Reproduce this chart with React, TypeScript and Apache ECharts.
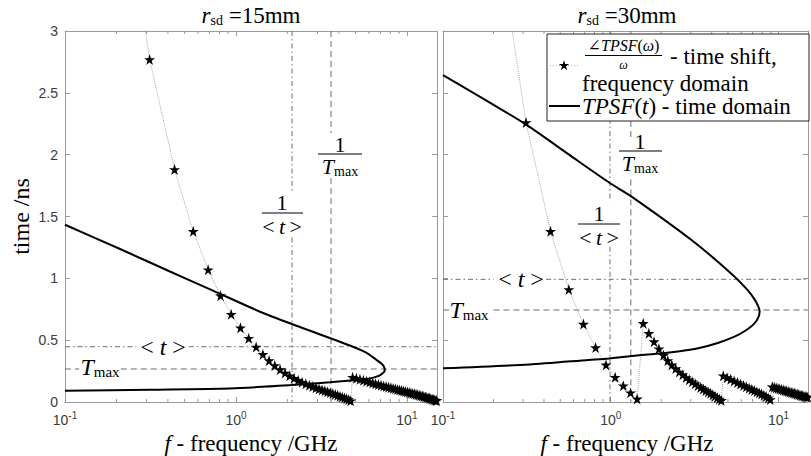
import React, { useEffect, useRef } from "react";
import * as echarts from "echarts";

// ---------- axes ----------
const X_MIN = 0.1;
const X_MAX = 15;
const Y_MIN = 0;
const Y_MAX = 3;
const Y_STEP = 0.5;
const minorTicksX = [0.2, 0.3, 0.4, 0.5, 0.6, 0.7, 0.8, 0.9, 2, 3, 4, 5, 6, 7, 8, 9];
const panelTitles = ["=15mm", "=30mm"];

// ---------- r_sd = 15 mm ----------
const tpsfLeft = [
  [0.1, 1.433], [0.21, 1.237], [0.411, 1.055], [0.734, 0.901], [1.44, 0.72], [2.37, 0.606],
  [4.83, 0.447], [5.84, 0.396], [6.65, 0.34], [7.14, 0.307], [7.34, 0.285], [7.42, 0.263],
  [7.36, 0.243], [7.05, 0.222], [6.65, 0.205], [6.0, 0.189], [4.85, 0.176], [3.55, 0.159],
  [2.12, 0.137], [0.922, 0.11], [0.314, 0.1], [0.1, 0.091],
];
const starsLeftSeg1 = [
  [0.1875, 4.8], [0.3125, 2.77], [0.4375, 1.88], [0.5625, 1.38], [0.6875, 1.07], [0.8125, 0.86],
  [0.9375, 0.71], [1.0625, 0.6], [1.1875, 0.515], [1.3125, 0.445], [1.4375, 0.385], [1.5625, 0.335],
  [1.6875, 0.295], [1.8125, 0.262], [1.9375, 0.235], [2.0625, 0.212], [2.1875, 0.192], [2.3125, 0.175],
  [2.4375, 0.16], [2.5625, 0.147], [2.6875, 0.135], [2.8125, 0.125], [2.9375, 0.115], [3.0625, 0.106],
  [3.1875, 0.098], [3.3125, 0.09], [3.4375, 0.082], [3.5625, 0.075], [3.6875, 0.068], [3.8125, 0.061],
  [3.9375, 0.054], [4.0625, 0.047], [4.1875, 0.04], [4.3125, 0.033], [4.4375, 0.026], [4.5625, 0.019],
  [4.6875, 0.01],
];
const starsLeftSeg2 = [
  [4.8125, 0.2], [5.0625, 0.192], [5.3125, 0.184], [5.5625, 0.176], [5.8125, 0.168], [6.0625, 0.161],
  [6.3125, 0.154], [6.5625, 0.147], [6.8125, 0.141], [7.0625, 0.135], [7.3125, 0.13], [7.5625, 0.125],
  [7.8125, 0.12], [8.0625, 0.115], [8.3125, 0.11], [8.5625, 0.106], [8.8125, 0.101], [9.0625, 0.097],
  [9.3125, 0.093], [9.5625, 0.089], [9.8125, 0.085], [10.0625, 0.081], [10.3125, 0.077], [10.5625, 0.073],
  [10.8125, 0.069], [11.0625, 0.066], [11.3125, 0.062], [11.5625, 0.058], [11.8125, 0.055], [12.0625, 0.051],
  [12.3125, 0.048], [12.5625, 0.044], [12.8125, 0.041], [13.0625, 0.037], [13.3125, 0.034], [13.5625, 0.03],
  [13.8125, 0.027], [14.0625, 0.023], [14.3125, 0.02], [14.5625, 0.016], [14.8125, 0.013], [14.9375, 0.012],
];
const meanLinesLeft = [
  [[2.13, 3], [2.13, 1.7]], [[2.13, 1.33], [2.13, 0]],
  [[0.1, 0.447], [0.262, 0.447]], [[0.53, 0.447], [15, 0.447]],
];
const tmaxLinesLeft = [
  [[3.6, 3], [3.6, 2.175]], [[3.6, 1.81], [3.6, 0]],
  [[0.1, 0.267], [0.121, 0.267]], [[0.212, 0.267], [15, 0.267]],
];

// ---------- r_sd = 30 mm ----------
const tpsfRight = [
  [0.1, 2.644], [0.305, 2.253], [0.564, 2.0], [0.982, 1.773], [1.318, 1.665], [3.03, 1.31],
  [5.22, 1.04], [6.55, 0.905], [7.2, 0.83], [7.6, 0.77], [7.72, 0.735], [7.62, 0.69], [7.2, 0.636],
  [6.3, 0.574], [5.47, 0.528], [4.35, 0.477], [3.32, 0.434], [2.52, 0.408], [2.01, 0.394],
  [1.525, 0.38], [0.973, 0.352], [0.74, 0.34], [0.327, 0.303], [0.1, 0.272],
];
const starsRightSeg1 = [
  [0.1875, 4.26], [0.3125, 2.26], [0.4375, 1.38], [0.5625, 0.91], [0.6875, 0.63], [0.8125, 0.44],
  [0.9375, 0.3], [1.0625, 0.2], [1.1875, 0.132], [1.3125, 0.075], [1.4375, 0.025],
];
const starsRightSeg2 = [
  [1.5625, 0.636], [1.6875, 0.555], [1.8125, 0.488], [1.9375, 0.43], [2.0625, 0.378], [2.1875, 0.335],
  [2.3125, 0.3], [2.4375, 0.27], [2.5625, 0.243], [2.6875, 0.22], [2.8125, 0.198], [2.9375, 0.18],
  [3.0625, 0.163], [3.1875, 0.147], [3.3125, 0.132], [3.4375, 0.118], [3.5625, 0.105], [3.6875, 0.093],
  [3.8125, 0.081], [3.9375, 0.07], [4.0625, 0.058], [4.1875, 0.047], [4.3125, 0.035], [4.4375, 0.024],
  [4.5625, 0.013],
];
const starsRightSeg3 = [
  [4.6875, 0.212], [4.9375, 0.197], [5.1875, 0.183], [5.4375, 0.17], [5.6875, 0.157], [5.9375, 0.145],
  [6.1875, 0.134], [6.4375, 0.123], [6.6875, 0.112], [6.9375, 0.102], [7.1875, 0.092], [7.4375, 0.082],
  [7.6875, 0.073], [7.9375, 0.064], [8.1875, 0.055], [8.4375, 0.044], [8.6875, 0.033], [8.9375, 0.02],
];
const starsRightSeg4 = [
  [9.1875, 0.124], [9.4375, 0.119], [9.6875, 0.114], [9.9375, 0.11], [10.1875, 0.106], [10.4375, 0.101],
  [10.6875, 0.097], [10.9375, 0.093], [11.1875, 0.089], [11.4375, 0.085], [11.6875, 0.081], [11.9375, 0.077],
  [12.1875, 0.074], [12.4375, 0.07], [12.6875, 0.067], [12.9375, 0.063], [13.1875, 0.06], [13.4375, 0.056],
  [13.6875, 0.053], [13.9375, 0.05], [14.1875, 0.047], [14.4375, 0.044], [14.6875, 0.041], [14.9375, 0.038],
];
const meanLinesRight = [
  [[0.99, 3], [0.99, 1.62]], [[0.99, 1.255], [0.99, 0]],
  [[0.1, 0.992], [0.2, 0.992]], [[0.412, 0.992], [15, 0.992]],
];
const tmaxLinesRight = [
  [[1.318, 3], [1.318, 2.13]], [[1.318, 1.8], [1.318, 0]],
  [[0.1, 0.744], [0.113, 0.744]], [[0.2, 0.744], [15, 0.744]],
];

// ---------- styles ----------
const SERIF = '"Liberation Serif", "DejaVu Serif", serif';
const SANS = "Liberation Sans";
const axisColor = "#9a9a9a";
const labelColor = "#3a3a3a";
const refColor = "#6e6e6e";
const DASH_DOT = [5, 3, 1.5, 3];
const DASHED = [6, 4];
const STAR =
  "path://M50 0 L61.17 34.63 L97.55 34.55 L68.07 55.87 L79.39 90.45 L50 69 L20.61 90.45 L31.93 55.87 L2.45 34.55 L38.83 34.63 Z";

function sf(size: number, italic = false) {
  return `${italic ? "italic" : "normal"} normal ${size}px ${SERIF}`;
}

function rich(size: number) {
  const subSize = Math.round(size * 0.62);
  const shift = Math.round(size * 0.22);
  return {
    n: { font: sf(size), fill: "#000" },
    i: { font: sf(size, true), fill: "#000" },
    sub: { font: sf(subSize), fill: "#000", padding: [shift * 2, 0, 0, 0] },
  };
}

function txt(x: number, y: number, text: string, size: number, align = "center", extra: any = {}) {
  return {
    type: "text",
    x,
    y,
    z: 100,
    ...extra,
    style: {
      text,
      font: sf(size),
      fill: "#000",
      align,
      textAlign: align,
      verticalAlign: "middle",
      textVerticalAlign: "middle",
      rich: rich(size),
    },
  };
}

function hline(x1: number, x2: number, y: number, width = 1, dash?: number[], color = "#000") {
  return {
    type: "line",
    z: 100,
    shape: { x1, y1: y, x2, y2: y },
    style: { stroke: color, lineWidth: width, lineDash: dash },
  };
}

function starPoints(cx: number, cy: number, R: number) {
  const pts: number[][] = [];
  for (let k = 0; k < 10; k++) {
    const r = k % 2 === 0 ? R : R * 0.38;
    const a = -Math.PI / 2 + (k * Math.PI) / 5;
    pts.push([cx + r * Math.cos(a), cy + r * Math.sin(a)]);
  }
  return pts;
}

function xAxisPair(gridIndex: number) {
  const base: any = {
    gridIndex,
    type: "log",
    logBase: 10,
    min: X_MIN,
    max: X_MAX,
    splitLine: { show: false },
    axisLine: { show: true, onZero: false, lineStyle: { color: axisColor, width: 1 } },
    axisTick: { show: true, inside: true, length: 5, lineStyle: { color: axisColor } },
  };
  return [
    {
      ...base,
      position: "bottom",
      axisLabel: {
        show: true,
        margin: 8,
        color: labelColor,
        formatter: (v: number) => {
          const e = Math.round(Math.log10(v));
          if (Math.abs(v / Math.pow(10, e) - 1) > 1e-6) return "";
          return `{b|10}{s|${e}}`;
        },
        rich: {
          b: { fontFamily: SANS, fontSize: 14, color: labelColor },
          s: { fontFamily: SANS, fontSize: 10, color: labelColor, padding: [0, 0, 9, 0] },
        },
      },
    },
    { ...base, position: "top", axisLabel: { show: false } },
  ];
}

function yAxisPair(gridIndex: number, labels: boolean) {
  const base: any = {
    gridIndex,
    type: "value",
    min: Y_MIN,
    max: Y_MAX,
    interval: Y_STEP,
    splitLine: { show: false },
    axisLine: { show: true, onZero: false, lineStyle: { color: axisColor, width: 1 } },
    axisTick: { show: true, inside: true, length: 5, lineStyle: { color: axisColor } },
  };
  return [
    {
      ...base,
      position: "left",
      axisLabel: { show: labels, margin: 7, color: labelColor, fontFamily: SANS, fontSize: 14 },
    },
    { ...base, position: "right", axisLabel: { show: false } },
  ];
}

function minorTickSeries(xi: number, yi: number) {
  return {
    type: "custom",
    xAxisIndex: xi,
    yAxisIndex: yi,
    silent: true,
    clip: false,
    z: 3,
    data: minorTicksX.map((v) => [v, Y_MIN]),
    encode: { x: 0, y: 1 },
    renderItem: (_p: any, api: any) => {
      const v = api.value(0);
      const b = api.coord([v, Y_MIN]);
      const t = api.coord([v, Y_MAX]);
      return {
        type: "group",
        children: [
          { type: "line", shape: { x1: b[0], y1: b[1], x2: b[0], y2: b[1] - 3 }, style: { stroke: axisColor, lineWidth: 1 } },
          { type: "line", shape: { x1: t[0], y1: t[1], x2: t[0], y2: t[1] + 3 }, style: { stroke: axisColor, lineWidth: 1 } },
        ],
      };
    },
  };
}

function refSeries(segments: number[][][], xi: number, yi: number, dash: number[]) {
  return segments.map((seg) => ({
    type: "line",
    xAxisIndex: xi,
    yAxisIndex: yi,
    data: seg,
    symbol: "none",
    silent: true,
    z: 1,
    lineStyle: { color: refColor, width: 1, type: dash },
  }));
}

function panelSeries(stars: number[][], tpsf: number[][], xi: number, yi: number) {
  return [
    {
      type: "line",
      name: "stars",
      xAxisIndex: xi,
      yAxisIndex: yi,
      data: stars,
      symbol: STAR,
      symbolSize: 11,
      showAllSymbol: true,
      itemStyle: { color: "#000" },
      lineStyle: { color: "#a8a8a8", width: 1, type: "dotted" },
      z: 4,
    },
    {
      type: "line",
      name: "tpsf",
      xAxisIndex: xi,
      yAxisIndex: yi,
      data: tpsf,
      symbol: "none",
      smooth: 0.25,
      lineStyle: { color: "#000", width: 2 },
      z: 5,
    },
  ];
}

export default function App() {
  const ref = useRef<HTMLDivElement>(null);

  useEffect(() => {
    document.body.style.margin = "0";
    if (!ref.current) return;
    const chart = echarts.init(ref.current, undefined, { renderer: "svg" });

    const starsLeft = [...starsLeftSeg1, ...starsLeftSeg2];
    const starsRight = [...starsRightSeg1, ...starsRightSeg2, ...starsRightSeg3, ...starsRightSeg4];

    const graphic: any[] = [
      // titles
      txt(251, 15, `{i|r}{sub|sd}{n| ${panelTitles[0]}}`, 23),
      txt(627, 15, `{i|r}{sub|sd}{n| ${panelTitles[1]}}`, 23),
      // axis titles
      txt(21, 216.5, "{n|time /ns}", 24, "center", { rotation: Math.PI / 2 }),
      txt(251, 443, "{i|f}{n| - frequency /GHz}", 23),
      txt(627, 443, "{i|f}{n| - frequency /GHz}", 23),
      // left annotations
      txt(282, 202, "{n|1}", 22),
      hline(262, 303, 213),
      txt(282, 226, "{n|<\u2009}{i|t}{n|\u2009>}", 22),
      txt(340, 144, "{n|1}", 22),
      hline(318, 362, 154),
      txt(340, 166, "{i|T}{sub|max}", 22),
      txt(163, 347, "{n|< }{i|t}{n| >}", 24),
      txt(100, 367, "{i|T}{sub|max}", 24),
      // right annotations
      txt(599, 213, "{n|1}", 22),
      hline(578, 620, 224),
      txt(599, 237, "{n|<\u2009}{i|t}{n|\u2009>}", 22),
      txt(640, 141, "{n|1}", 22),
      hline(619, 662, 151),
      txt(640, 163, "{i|T}{sub|max}", 22),
      txt(521, 279.3, "{n|< }{i|t}{n| >}", 24),
      txt(469, 310, "{i|T}{sub|max}", 24),
      // legend
      {
        type: "rect",
        z: 99,
        shape: { x: 547, y: 34, width: 262, height: 87 },
        style: { fill: "#fff", stroke: "#222", lineWidth: 1 },
      },
      hline(550, 580, 65.7, 1, [1, 2], "#a8a8a8"),
      { type: "polygon", z: 101, shape: { points: starPoints(564, 65.7, 5.5) }, style: { fill: "#000" } },
      txt(623.5, 45.5, "{n|∠}{i|TPSF}{n|(}{i|ω}{n|)}", 16),
      hline(585, 662, 55.5),
      txt(623.5, 64.5, "{i|ω}", 12),
      txt(670, 56, "{n|- time shift,}", 23, "left"),
      txt(582, 83, "{n|frequency domain}", 23, "left"),
      hline(549, 580, 106, 2),
      txt(582, 106.5, "{i|TPSF}{n|(}{i|t}{n|) - time domain}", 23, "left"),
    ];

    chart.setOption({
      animation: false,
      backgroundColor: "#fff",
      textStyle: { fontFamily: SANS },
      grid: [
        { left: 65, top: 31, width: 372, height: 371 },
        { left: 443, top: 31, width: 369, height: 371 },
      ],
      xAxis: [...xAxisPair(0), ...xAxisPair(1)],
      yAxis: [...yAxisPair(0, true), ...yAxisPair(1, false)],
      series: [
        ...refSeries(meanLinesLeft, 0, 0, DASH_DOT),
        ...refSeries(tmaxLinesLeft, 0, 0, DASHED),
        ...refSeries(meanLinesRight, 2, 2, DASH_DOT),
        ...refSeries(tmaxLinesRight, 2, 2, DASHED),
        minorTickSeries(0, 0),
        minorTickSeries(2, 2),
        ...panelSeries(starsLeft, tpsfLeft, 0, 0),
        ...panelSeries(starsRight, tpsfRight, 2, 2),
      ],
      graphic,
    });

    return () => chart.dispose();
  }, []);

  return <div ref={ref} style={{ width: 811, height: 456, position: "absolute", left: 0, top: 0 }} />;
}
